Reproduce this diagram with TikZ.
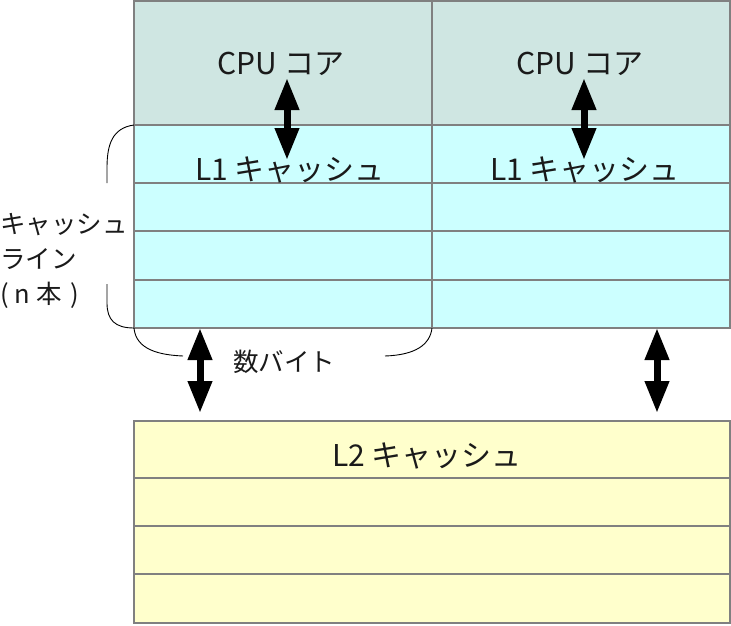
\documentclass[tikz,border=0pt]{standalone}
\usepackage{fontspec}
\setmainfont{Noto Sans CJK JP}
\usetikzlibrary{arrows.meta}
\definecolor{cpuc}{HTML}{CFE6E2}
\definecolor{lonec}{HTML}{CCFFFF}
\definecolor{ltwoc}{HTML}{FFFFCC}
\definecolor{gridc}{HTML}{808080}
\definecolor{txtc}{HTML}{1A1A1A}
\begin{document}
\begin{tikzpicture}[x=1pt,y=-1pt,
  cell/.style={draw=gridc,line width=1.3pt,anchor=north west,inner sep=0pt,outer sep=0pt},
  big/.style={font=\fontsize{30}{36}\selectfont,text=txtc,inner sep=0pt},
  small/.style={font=\fontsize{25.5}{35}\selectfont,text=txtc,inner sep=0pt},
  dbl/.style={line width=7pt,{Triangle[width=23pt,length=32pt]}-{Triangle[width=23pt,length=32pt]}},
  brace/.style={draw=black,line width=0.9pt}]
\useasboundingbox (0,0) rectangle (731,626);
% CPU cores
\node[cell,fill=cpuc,minimum width=298pt,minimum height=124pt] (cpua) at (134,1) {};
\node[cell,fill=cpuc,minimum width=298pt,minimum height=124pt] (cpub) at (432,1) {};
% L1 rows
\foreach \c/\x in {a/134,b/432}{
  \node[cell,fill=lonec,minimum width=298pt,minimum height=58pt] (la\c) at (\x,125) {};
  \node[cell,fill=lonec,minimum width=298pt,minimum height=48pt] (lb\c) at (\x,183) {};
  \node[cell,fill=lonec,minimum width=298pt,minimum height=49pt] (lc\c) at (\x,231) {};
  \node[cell,fill=lonec,minimum width=298pt,minimum height=48pt] (ld\c) at (\x,280) {};
}
% L2 rows
\node[cell,fill=ltwoc,minimum width=596pt,minimum height=57pt] (ma) at (134,421) {};
\node[cell,fill=ltwoc,minimum width=596pt,minimum height=48pt] (mb) at (134,478) {};
\node[cell,fill=ltwoc,minimum width=596pt,minimum height=48pt] (mc) at (134,526) {};
\node[cell,fill=ltwoc,minimum width=596pt,minimum height=49pt] (md) at (134,574) {};
% texts
\node[big] (ta) at (281,64) {CPU コア};
\node[big] (tb) at (580,64) {CPU コア};
\node[big] (tc) at (290,170) {L1 キャッシュ};
\node[big] (td) at (585,170) {L1 キャッシュ};
\node[big] (te) at (427,456) {L2 キャッシュ};
\node[small,align=left,anchor=west] (tf) at (0,261) {キャッシュ\\ライン\\(\kern6pt n 本\kern9pt)};
\node[small] (tg) at (284,362) {数バイト};
% braces
\draw[brace] (laa.north west) .. controls (112,128) and (107,145) .. (107,168) -- (107,183);
\draw[brace] (107,284) -- (107,303) .. controls (107,320) and (115,328) .. (ldb.south west -| laa.west);
\draw[brace] (ldb.south west -| laa.west) .. controls (136,350) and (160,355) .. (183,356);
\draw[brace] (385,356) .. controls (415,355) and (430,345) .. (lda.south east);
% arrows
\coordinate (pa1) at (287,78); \coordinate (pa2) at (287,160);
\coordinate (pb1) at (584,78); \coordinate (pb2) at (584,160);
\coordinate (pc1) at (200,328); \coordinate (pc2) at (200,413);
\coordinate (pd1) at (657,328); \coordinate (pd2) at (657,413);
\draw[dbl] (pa1) -- (pa2);
\draw[dbl] (pb1) -- (pb2);
\draw[dbl] (pc1) -- (pc2);
\draw[dbl] (pd1) -- (pd2);
\end{tikzpicture}
\end{document}
